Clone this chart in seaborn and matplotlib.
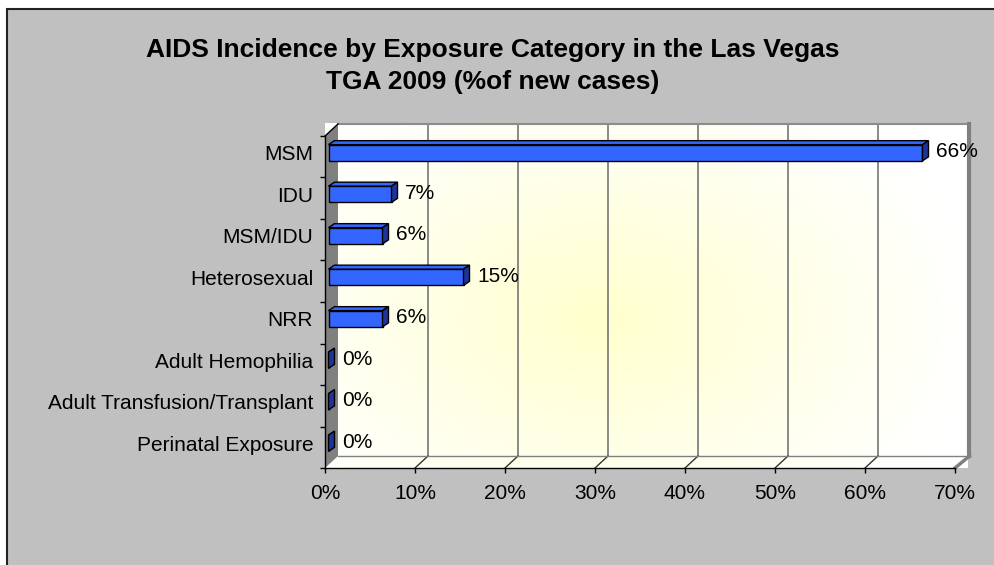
import matplotlib
matplotlib.use('Agg')
import matplotlib.pyplot as plt
from matplotlib.patches import Polygon, Rectangle
from matplotlib.transforms import ScaledTranslation
import numpy as np
import seaborn as sns

plt.rcParams['font.family'] = ['Liberation Sans', 'DejaVu Sans']

categories = ['MSM', 'IDU', 'MSM/IDU', 'Heterosexual', 'NRR', 'Adult Hemophilia',
              'Adult Transfusion/Transplant', 'Perinatal Exposure']
values = [66, 7, 6, 15, 6, 0, 0, 0]
x_ticks = [0, 10, 20, 30, 40, 50, 60, 70]
title = 'AIDS Incidence by Exposure Category in the Las Vegas\nTGA 2009 (%of new cases)'

W, H = 995, 565
fig = plt.figure(figsize=(W / 100, H / 100), dpi=100)
fig.patch.set_facecolor('white')

# chart area (grey) with dark frame on left/top
fig.add_artist(Rectangle((7.5 / W, -0.05), 1.1, (H - 8.5) / H + 0.05, transform=fig.transFigure,
                         facecolor='#C0C0C0', edgecolor='#222222', lw=1.5, zorder=0))

# front plane of the 3D plot, in pixels
fx0, fx1, fy0, fy1 = 325, 955, 136, 468
ax = fig.add_axes([fx0 / W, (H - fy1) / H, (fx1 - fx0) / W, (fy1 - fy0) / H])
ax.set_facecolor('none')

sns.barplot(x=values, y=categories, orient='h', color='#3366FF', saturation=1, width=0.39,
            edgecolor='black', linewidth=1, ax=ax, zorder=5)

xmax = 70
ax.set_xlim(0, xmax)
ax.set_ylim(len(categories) - 0.5, -0.5)

ux = xmax / (fx1 - fx0)            # data units per pixel
uy = len(categories) / (fy1 - fy0)


def shift(x, y, px, py):
    return x + px * ux, y - py * uy


wdx, wdy = 13, 12   # wall depth in pixels
top, bot = -0.5, len(categories) - 0.5

# gradient for back wall and floor
gx = np.linspace(fx0, fx1 + wdx, 300)
gy = np.linspace(fy0 - wdy, fy1, 200)
GX, GY = np.meshgrid(gx, gy)
r = np.sqrt(((GX - 600) / 380) ** 2 + ((GY - 320) / 260) ** 2)
wgt = np.clip(1 - r, 0, 1) ** 1.1
img = np.ones((len(gy), len(gx), 3))
img[..., 2] = 1 - wgt * 0.2
bx0, by0 = shift(0, top, wdx, wdy)
bx1, by1 = shift(xmax, bot, wdx, wdy)
clip = Polygon([(bx0, by0), (bx1, by0), (bx1, by1), (xmax, bot), (0, bot), (bx0, by1)],
               closed=True, transform=ax.transData)
im = ax.imshow(img, extent=(0, bx1, bot, by0), aspect='auto', zorder=0, clip_on=False)
im.set_clip_path(clip)
ax.set_xlim(0, xmax)
ax.set_ylim(bot, top)

# back wall grid lines and floor lines
for t in x_ticks[1:-1]:
    ax.plot(*zip(shift(t, top, wdx, wdy), shift(t, bot, wdx, wdy)), color='#808080', lw=1.3,
            zorder=1, clip_on=False)
    ax.plot(*zip((t, bot), shift(t, bot, wdx, wdy)), color='#333333', lw=1, zorder=1, clip_on=False)

# back wall border and shadow
ax.plot(*zip(shift(0, top, wdx, wdy), shift(xmax, top, wdx, wdy)), color='#8C8C8C', lw=1.5,
        zorder=1, clip_on=False)
ax.plot(*zip(shift(xmax, top, wdx + 1.5, wdy), shift(xmax, bot, wdx + 1.5, wdy)), color='#808080',
        lw=3, zorder=1, clip_on=False)
ax.plot(*zip(shift(0, bot, wdx, wdy), shift(xmax, bot, wdx, wdy)), color='#808080', lw=1,
        zorder=1, clip_on=False)
ax.plot(*zip((xmax, bot), shift(xmax, bot, wdx + 1.5, wdy)), color='#808080', lw=2.5,
        zorder=1, clip_on=False)

# left wall
ax.add_patch(Polygon([(0, top), shift(0, top, wdx, wdy), shift(0, bot, wdx, wdy), (0, bot)],
                     closed=True, facecolor='#808080', edgecolor='none', zorder=2, clip_on=False))
ax.plot(*zip((0, top), shift(0, top, wdx, wdy)), color='black', lw=1, zorder=2, clip_on=False)

# 3D bars: shift front face into the middle of the depth, add top and side faces
bdx, bdy = 6, 4
for p in ax.patches[:len(values)]:
    x0, y0 = p.get_x(), p.get_y()
    w, h = p.get_width(), p.get_height()
    x0, y0 = shift(x0, y0, 3.5, 4)
    p.set_x(x0)
    p.set_y(y0)
    p.set_clip_on(False)
    x1, y1 = x0 + w, y0 + h
    ax.add_patch(Polygon([(x0, y0), (x1, y0), shift(x1, y0, bdx, bdy), shift(x0, y0, bdx, bdy)],
                         closed=True, facecolor='#3366FF', edgecolor='black', lw=1, zorder=6,
                         clip_on=False))
    ax.add_patch(Polygon([(x1, y0), (x1, y1), shift(x1, y1, bdx, bdy), shift(x1, y0, bdx, bdy)],
                         closed=True, facecolor='#1F3399', edgecolor='black', lw=1, zorder=6,
                         clip_on=False))

for i, v in enumerate(values):
    lx, ly = shift(v, i, 17, 5)
    ax.text(lx, ly, f'{v}%', ha='left', va='center', fontsize=15, zorder=8, clip_on=False)

# axes
for s in ['top', 'right']:
    ax.spines[s].set_visible(False)
for s in ['left', 'bottom']:
    ax.spines[s].set_color('black')
    ax.spines[s].set_linewidth(1)
    ax.spines[s].set_zorder(3)

ax.set_xticks(x_ticks)
ax.set_xticklabels([f'{t}%' for t in x_ticks])
ax.set_yticks(np.arange(top, bot + 1, 1))
ax.set_yticklabels([])
ax.set_yticks(range(len(categories)), minor=True)
ax.set_yticklabels(categories, minor=True)
ax.tick_params(axis='x', length=3.6, width=1, pad=8, labelsize=15, colors='black')
ax.tick_params(axis='y', which='major', length=3.6, width=1)
ax.tick_params(axis='y', which='minor', length=0, pad=8.5, labelsize=15)
up = ScaledTranslation(0, 4 / 100, fig.dpi_scale_trans)
for lbl in ax.get_yticklabels(minor=True):
    lbl.set_transform(lbl.get_transform() + up)
ax.set_xlabel('')
ax.set_ylabel('')

fig.text(0.495, 1 - 66 / H, title, ha='center', va='center', fontsize=19, fontweight='bold',
         multialignment='center', linespacing=1.45)

fig.savefig('out.png', dpi=100)
